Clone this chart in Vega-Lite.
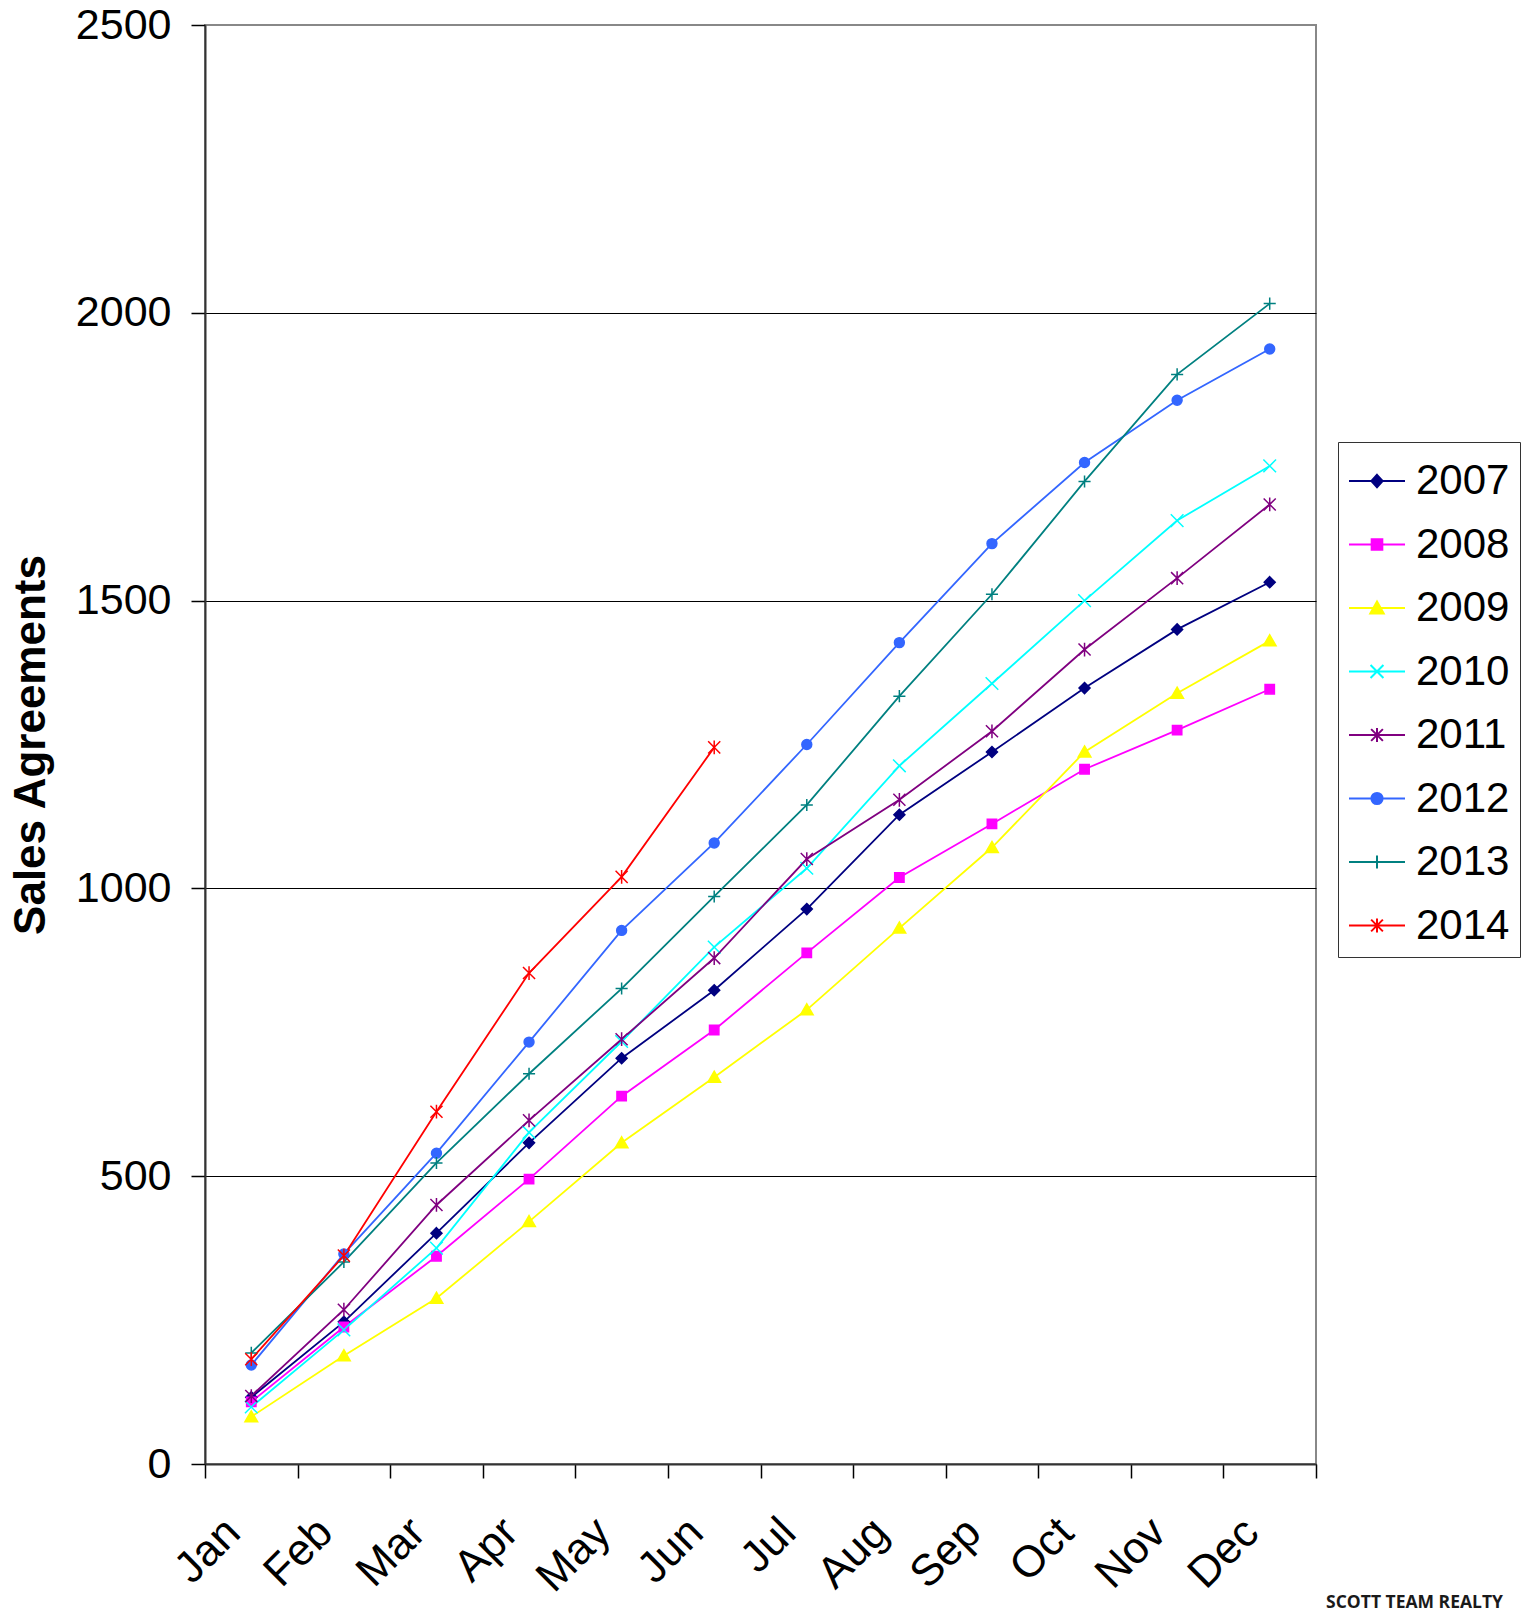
{
  "$schema": "https://vega.github.io/schema/vega-lite/v6.json",
  "width": 1111,
  "height": 1439,
  "autosize": "none",
  "padding": {"left": 205, "top": 25, "right": 217, "bottom": 150},
  "background": "white",
  "title": {"text": "SCOTT TEAM REALTY", "orient": "bottom", "anchor": "end", "frame": "group", "fontSize": 17.5, "font": "Open Sans", "fontWeight": "bold", "color": "#1a1a1a", "dx": 187, "offset": -6},
  "data": {"values": [
    {"year":"2007","month":"Jan","value":116},{"year":"2007","month":"Feb","value":247},{"year":"2007","month":"Mar","value":401},{"year":"2007","month":"Apr","value":558},{"year":"2007","month":"May","value":705},{"year":"2007","month":"Jun","value":823},{"year":"2007","month":"Jul","value":964},{"year":"2007","month":"Aug","value":1128},{"year":"2007","month":"Sep","value":1237},{"year":"2007","month":"Oct","value":1348},{"year":"2007","month":"Nov","value":1450},{"year":"2007","month":"Dec","value":1532},
    {"year":"2008","month":"Jan","value":108},{"year":"2008","month":"Feb","value":238},{"year":"2008","month":"Mar","value":361},{"year":"2008","month":"Apr","value":495},{"year":"2008","month":"May","value":639},{"year":"2008","month":"Jun","value":754},{"year":"2008","month":"Jul","value":888},{"year":"2008","month":"Aug","value":1019},{"year":"2008","month":"Sep","value":1112},{"year":"2008","month":"Oct","value":1207},{"year":"2008","month":"Nov","value":1275},{"year":"2008","month":"Dec","value":1346},
    {"year":"2009","month":"Jan","value":82},{"year":"2009","month":"Feb","value":188},{"year":"2009","month":"Mar","value":288},{"year":"2009","month":"Apr","value":421},{"year":"2009","month":"May","value":558},{"year":"2009","month":"Jun","value":672},{"year":"2009","month":"Jul","value":789},{"year":"2009","month":"Aug","value":931},{"year":"2009","month":"Sep","value":1071},{"year":"2009","month":"Oct","value":1237},{"year":"2009","month":"Nov","value":1339},{"year":"2009","month":"Dec","value":1430},
    {"year":"2010","month":"Jan","value":99},{"year":"2010","month":"Feb","value":233},{"year":"2010","month":"Mar","value":375},{"year":"2010","month":"Apr","value":576},{"year":"2010","month":"May","value":734},{"year":"2010","month":"Jun","value":898},{"year":"2010","month":"Jul","value":1035},{"year":"2010","month":"Aug","value":1213},{"year":"2010","month":"Sep","value":1356},{"year":"2010","month":"Oct","value":1500},{"year":"2010","month":"Nov","value":1639},{"year":"2010","month":"Dec","value":1734},
    {"year":"2011","month":"Jan","value":118},{"year":"2011","month":"Feb","value":268},{"year":"2011","month":"Mar","value":450},{"year":"2011","month":"Apr","value":597},{"year":"2011","month":"May","value":738},{"year":"2011","month":"Jun","value":879},{"year":"2011","month":"Jul","value":1051},{"year":"2011","month":"Aug","value":1154},{"year":"2011","month":"Sep","value":1273},{"year":"2011","month":"Oct","value":1415},{"year":"2011","month":"Nov","value":1539},{"year":"2011","month":"Dec","value":1667},
    {"year":"2012","month":"Jan","value":172},{"year":"2012","month":"Feb","value":365},{"year":"2012","month":"Mar","value":540},{"year":"2012","month":"Apr","value":733},{"year":"2012","month":"May","value":927},{"year":"2012","month":"Jun","value":1079},{"year":"2012","month":"Jul","value":1250},{"year":"2012","month":"Aug","value":1427},{"year":"2012","month":"Sep","value":1599},{"year":"2012","month":"Oct","value":1740},{"year":"2012","month":"Nov","value":1848},{"year":"2012","month":"Dec","value":1937},
    {"year":"2013","month":"Jan","value":193},{"year":"2013","month":"Feb","value":351},{"year":"2013","month":"Mar","value":523},{"year":"2013","month":"Apr","value":678},{"year":"2013","month":"May","value":826},{"year":"2013","month":"Jun","value":986},{"year":"2013","month":"Jul","value":1145},{"year":"2013","month":"Aug","value":1334},{"year":"2013","month":"Sep","value":1511},{"year":"2013","month":"Oct","value":1707},{"year":"2013","month":"Nov","value":1893},{"year":"2013","month":"Dec","value":2016},
    {"year":"2014","month":"Jan","value":182},{"year":"2014","month":"Feb","value":362},{"year":"2014","month":"Mar","value":612},{"year":"2014","month":"Apr","value":853},{"year":"2014","month":"May","value":1020},{"year":"2014","month":"Jun","value":1245}
  ]},
  "encoding": {
    "x": {
      "field": "month", "type": "ordinal",
      "sort": ["Jan","Feb","Mar","Apr","May","Jun","Jul","Aug","Sep","Oct","Nov","Dec"],
      "scale": {"type": "band", "domain": ["Jan","Feb","Mar","Apr","May","Jun","Jul","Aug","Sep","Oct","Nov","Dec"], "paddingInner": 0, "paddingOuter": 0},
      "bandPosition": 0.5,
      "axis": {"title": null, "grid": false, "tickBand": "extent", "tickSize": 14, "tickColor": "#000", "tickWidth": 1.5, "labelAngle": -45, "labelFontSize": 44, "labelPadding": 32, "labelOffset": -34, "labelColor": "#000", "domainColor": "#333", "domainWidth": 2}
    },
    "y": {
      "field": "value", "type": "quantitative",
      "scale": {"domain": [0, 2500], "nice": false, "zero": true},
      "axis": {
        "values": [0, 500, 1000, 1500, 2000, 2500],
        "format": "d",
        "grid": true,
        "gridColor": {"condition": {"test": "datum.value === 2500", "value": "#888888"}, "value": "#000000"},
        "gridWidth": 1,
        "tickSize": 14, "tickColor": "#000", "tickWidth": 1.5,
        "labelFontSize": 43, "labelPadding": 20, "labelColor": "#000",
        "domainColor": "#333", "domainWidth": 2,
        "title": "Sales Agreements", "titleFontSize": 44, "titleFontWeight": "bold", "titleColor": "#000", "titlePadding": 22
      }
    }
  },
  "layer": [
    {
      "mark": {"type": "line", "strokeWidth": 1.8},
      "encoding": {
        "stroke": {"field": "year", "type": "nominal", "legend": null,
          "scale": {"domain": ["2007","2008","2009","2010","2011","2012","2013","2014"], "range": ["#000080","#FF00FF","#FFFF00","#00FFFF","#800080","#3366FF","#008080","#FF0000"]}}
      }
    },
    {
      "mark": {"type": "point", "filled": true, "opacity": 1, "size": 121, "strokeWidth": 1.5},
      "encoding": {
        "fill": {"field": "year", "type": "nominal", "legend": null,
          "scale": {"domain": ["2007","2008","2009","2010","2011","2012","2013","2014"], "range": ["#000080","#FF00FF","#FFFF00","#00FFFF","#800080","#3366FF","#008080","#FF0000"]}},
        "stroke": {"field": "year", "type": "nominal", "legend": null,
          "scale": {"domain": ["2007","2008","2009","2010","2011","2012","2013","2014"], "range": ["#000080","#FF00FF","#FFFF00","#00FFFF","#800080","#3366FF","#008080","#FF0000"]}},
        "shape": {"field": "year", "type": "nominal", "legend": null,
          "scale": {"domain": ["2007","2008","2009","2010","2011","2012","2013","2014"], "range": [
            "M0,-1L1,0L0,1L-1,0Z",
            "M-0.85,-0.85H0.85V0.85H-0.85Z",
            "M0,-1.1L1.15,0.9H-1.15Z",
            "M-1.15,-1.15L1.15,1.15M-1.15,1.15L1.15,-1.15",
            "M-1.1,-1.1L1.1,1.1M-1.1,1.1L1.1,-1.1M0,-1.25V1.25",
            "M-0.9,0A0.9,0.9 0 1,0 0.9,0A0.9,0.9 0 1,0 -0.9,0Z",
            "M-1.1,0H1.1M0,-1.1V1.1",
            "M-1.1,-1.1L1.1,1.1M-1.1,1.1L1.1,-1.1M0,-1.25V1.25"
          ]}}
      }
    },
    {
      "transform": [{"filter": "false"}],
      "mark": {"type": "point", "filled": true, "opacity": 1, "strokeWidth": 2},
      "encoding": {
        "fill": {"field": "year", "type": "nominal", "title": null,
          "scale": {"domain": ["2007","2008","2009","2010","2011","2012","2013","2014"], "range": ["#000080","#FF00FF","#FFFF00","#00FFFF","#800080","#3366FF","#008080","#FF0000"]}},
        "stroke": {"field": "year", "type": "nominal", "title": null,
          "scale": {"domain": ["2007","2008","2009","2010","2011","2012","2013","2014"], "range": ["#000080","#FF00FF","#FFFF00","#00FFFF","#800080","#3366FF","#008080","#FF0000"]}},
        "shape": {"field": "year", "type": "nominal", "title": null,
          "scale": {"domain": ["2007","2008","2009","2010","2011","2012","2013","2014"], "range": [
            "M-1,0H1M0,-0.22L0.2,0L0,0.22L-0.2,0Z",
            "M-1,0H1M-0.19,-0.19H0.19V0.19H-0.19Z",
            "M-1,0H1M0,-0.23L0.24,0.2H-0.24Z",
            "M-1,0H1M-0.23,-0.23L0.23,0.23M-0.23,0.23L0.23,-0.23",
            "M-1,0H1M-0.21,-0.21L0.21,0.21M-0.21,0.21L0.21,-0.21M0,-0.25V0.25",
            "M-1,0H1M-0.2,0A0.2,0.2 0 1,0 0.2,0A0.2,0.2 0 1,0 -0.2,0Z",
            "M-1,0H1M0,-0.23V0.23",
            "M-1,0H1M-0.21,-0.21L0.21,0.21M-0.21,0.21L0.21,-0.21M0,-0.25V0.25"
          ]},
          "legend": {
            "orient": "none", "legendX": 1133, "legendY": 417,
            "strokeColor": "#333", "fillColor": "white", "padding": 10,
            "labelFontSize": 42, "labelColor": "#000", "labelOffset": 10,
            "symbolSize": 3136, "symbolStrokeWidth": 2, "rowPadding": 13.5
          }
        }
      }
    }
  ],
  "resolve": {"scale": {"fill": "independent", "stroke": "independent", "shape": "independent"}},
  "config": {
    "font": "Liberation Sans",
    "view": {"stroke": "#888888", "strokeWidth": 2}
  }
}
